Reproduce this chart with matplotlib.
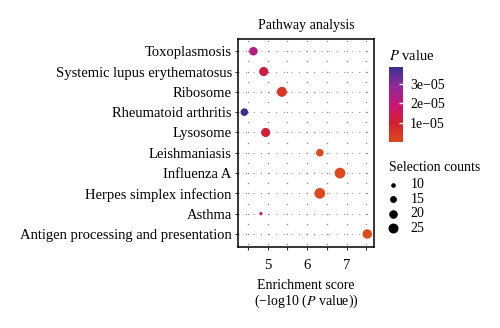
import numpy as np
import matplotlib
matplotlib.use("Agg")
import matplotlib.pyplot as plt
from matplotlib.colors import LinearSegmentedColormap, Normalize
from matplotlib.ticker import MultipleLocator

plt.rcParams['font.family'] = ['Liberation Serif', 'DejaVu Serif']
plt.rcParams['mathtext.fontset'] = 'stix'

pathways = ["Toxoplasmosis", "Systemic lupus erythematosus", "Ribosome",
            "Rheumatoid arthritis", "Lysosome", "Leishmaniasis", "Influenza A",
            "Herpes simplex infection", "Asthma", "Antigen processing and presentation"]
enrichment = [4.64, 4.90, 5.36, 4.41, 4.95, 6.32, 6.83, 6.32, 4.83, 7.52]
sel_counts = [20, 22, 25, 17, 22, 17, 28, 28, 8, 23]
size_breaks = [10, 15, 20, 25]
p_ticks = [1e-5, 2e-5, 3e-5]
x_ticks = [5, 6, 7]

enrichment = np.array(enrichment)
pvals = 10 ** (-enrichment)

cmap = LinearSegmentedColormap.from_list(
    "pv", ["#dc4a1c", "#d31f2e", "#c8167a", "#8f2a98", "#37308e"])
norm = Normalize(vmin=pvals.min(), vmax=pvals.max())


def dot_size(n):
    # marker area (pt^2) grows linearly with the count
    return np.maximum(2.7 * np.asarray(n, dtype=float) - 16.0, 3.0)


fig = plt.figure(figsize=(5, 3.28), dpi=100)
ax = fig.add_axes([0.476, 0.247, 0.272, 0.634])

ypos = np.arange(len(pathways))

# faint dotted background grid
ax.set_xlim(4.25, 7.69)
ax.set_ylim(len(pathways) - 1 + 0.64, -0.6)
for y in ypos:
    ax.axhline(y, color="#888888", lw=0.8, ls=(0, (0.8, 6)), zorder=0)
gx, gy = np.meshgrid(np.arange(4.5, 7.6, 0.5), np.arange(-0.5, len(pathways), 0.5))
ax.scatter(gx.ravel(), gy.ravel(), s=1.0, color="#888888", lw=0, zorder=0)

ax.scatter(enrichment, ypos, s=dot_size(sel_counts), c=pvals, cmap=cmap,
           norm=norm, lw=0, zorder=3)

ax.set_yticks(ypos)
ax.set_yticklabels(pathways, fontsize=10.5)
ax.set_xticks(x_ticks)
ax.xaxis.set_minor_locator(MultipleLocator(0.5))
ax.tick_params(axis="both", which="both", direction="out", length=2.5,
               width=0.8, color="#333333", labelsize=10.5, pad=2)
ax.tick_params(axis="x", pad=6)
for sp in ax.spines.values():
    sp.set_linewidth(1.1)

ax.set_title("Pathway analysis", fontsize=10, pad=7)
ax.set_xlabel("Enrichment score\n(\u2212log10 ($P$ value))", fontsize=10,
              labelpad=5, linespacing=1.1)

# colour bar for P value
cax = fig.add_axes([0.777, 0.568, 0.029, 0.228])
sm = plt.cm.ScalarMappable(norm=norm, cmap=cmap)
cb = fig.colorbar(sm, cax=cax, ticks=p_ticks)
cb.outline.set_visible(False)
cb.ax.set_yticklabels(["1e\u221205", "2e\u221205", "3e\u221205"])
cb.ax.tick_params(direction="in", length=3, width=1, color="white",
                  labelsize=10, pad=5)
fig.text(0.778, 0.828, "$P$ value", fontsize=10.5, ha="left", va="center")

# legend for selection counts
fig.text(0.778, 0.49, "Selection counts", fontsize=10, ha="left", va="center")
handles = [ax.scatter([], [], s=dot_size(b), color="black", lw=0) for b in size_breaks]
leg = fig.legend(handles, [str(b) for b in size_breaks],
                 loc="upper left", bbox_to_anchor=(0.757, 0.477), frameon=False,
                 fontsize=10, labelspacing=0.1, handletextpad=0.7,
                 handlelength=1.1, borderpad=0.0)

fig.savefig("out.png", dpi=100)
